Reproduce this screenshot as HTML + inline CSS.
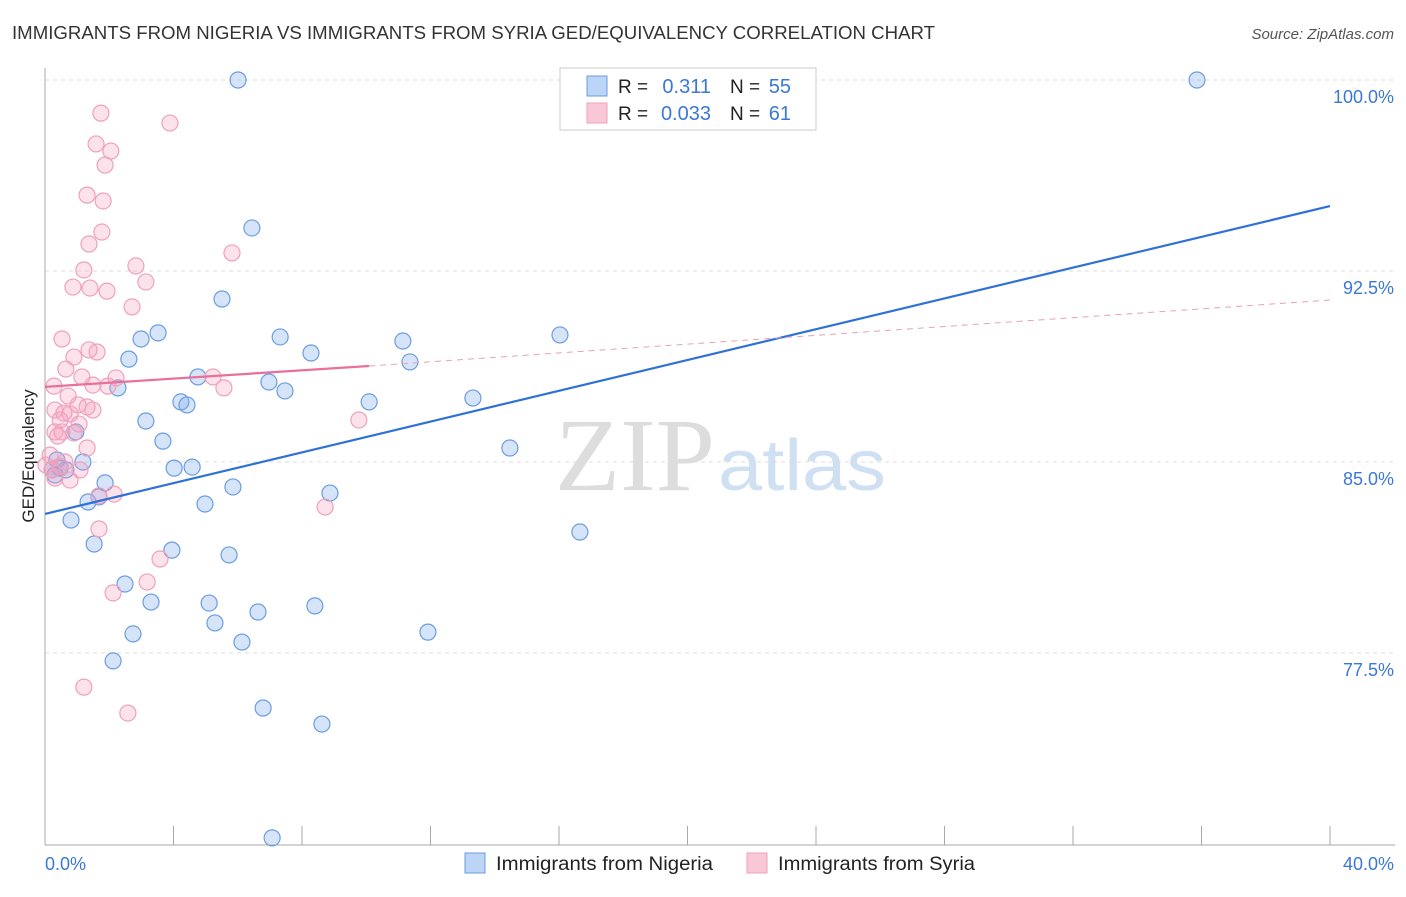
<!DOCTYPE html>
<html><head><meta charset="utf-8"><style>
body{margin:0;background:#fff;width:1406px;height:892px;overflow:hidden;font-family:"Liberation Sans",sans-serif}
</style></head><body>
<svg id="chart" width="1406" height="892" xmlns="http://www.w3.org/2000/svg" font-family="Liberation Sans, sans-serif">
<text x="12" y="39" font-size="18" fill="#333" textLength="923" lengthAdjust="spacingAndGlyphs">IMMIGRANTS FROM NIGERIA VS IMMIGRANTS FROM SYRIA GED/EQUIVALENCY CORRELATION CHART</text>
<text x="1394" y="39" font-size="15" fill="#555" text-anchor="end" font-style="italic">Source: ZipAtlas.com</text>
<text x="555" y="490" font-size="104" fill="#ddd" font-family="Liberation Serif, serif" textLength="160" lengthAdjust="spacingAndGlyphs">ZIP</text>
<text x="718" y="490" font-size="72" fill="#cfe0f3" textLength="168" lengthAdjust="spacingAndGlyphs">atlas</text>
<g id="grid"></g><g id="marks"></g>
<text transform="translate(34,456) rotate(-90)" font-size="17" fill="#222" text-anchor="middle">GED/Equivalency</text>
<text x="45" y="870" font-size="18" fill="#3a78d8">0.0%</text>
<text x="1394" y="870" font-size="18" fill="#3a78d8" text-anchor="end">40.0%</text>
<g>
<rect x="560" y="68" width="256" height="62" fill="#fff" stroke="#ccc"/>
<rect x="587" y="76" width="20" height="20" fill="#bcd4f5" stroke="#6a9de0"/>
<rect x="587" y="103" width="20" height="20" fill="#f9c8d7" stroke="#f0a0bb"/>
<text x="618" y="93" font-size="19" fill="#222">R =</text>
<text x="711" y="93" font-size="20" fill="#3a78d8" text-anchor="end">0.311</text>
<text x="730" y="93" font-size="19" fill="#222">N =</text>
<text x="791" y="93" font-size="20" fill="#3a78d8" text-anchor="end">55</text>
<text x="618" y="120" font-size="19" fill="#222">R =</text>
<text x="711" y="120" font-size="20" fill="#3a78d8" text-anchor="end">0.033</text>
<text x="730" y="120" font-size="19" fill="#222">N =</text>
<text x="791" y="120" font-size="20" fill="#3a78d8" text-anchor="end">61</text>
</g>
<g>
<rect x="465" y="853" width="20" height="20" fill="#bcd4f5" stroke="#6a9de0"/>
<text x="496" y="870" font-size="19" fill="#222" textLength="217" lengthAdjust="spacingAndGlyphs">Immigrants from Nigeria</text>
<rect x="747" y="853" width="20" height="20" fill="#f9c8d7" stroke="#f0a0bb"/>
<text x="778" y="870" font-size="19" fill="#222" textLength="197" lengthAdjust="spacingAndGlyphs">Immigrants from Syria</text>
</g>
</svg>
<script>
const yTicks=[100,92.5,85,77.5];
const yTickLabels=["100.0%","92.5%","85.0%","77.5%"];
const nigeriaX=[6.01,35.86,6.44,5.51,3.52,2.99,7.32,8.28,11.14,16.03,2.61,11.36,2.27,4.76,6.97,7.47,4.23,4.42,10.09,13.32,3.14,3.67,0.96,14.47,1.18,0.37,0.22,0.47,0.65,4.02,4.58,1.87,5.85,8.87,1.34,1.68,4.98,0.81,16.65,1.53,3.95,5.73,2.49,3.30,5.11,8.40,6.63,5.29,2.74,6.13,11.92,2.12,6.79,8.62,7.07,0.31];
const nigeriaY=[100,100,94.19,91.40,90.07,89.83,89.91,89.28,89.75,89.99,89.04,88.93,87.91,88.34,88.14,87.79,87.36,87.24,87.36,87.51,86.61,85.82,86.18,85.55,85.00,85.08,84.69,84.76,84.69,84.76,84.80,84.18,84.02,83.78,83.43,83.63,83.35,82.72,82.25,81.78,81.54,81.35,80.21,79.50,79.46,79.35,79.11,78.68,78.25,77.93,78.32,77.19,75.34,74.71,70.24,84.49];
const syriaX=[1.74,3.89,1.59,2.05,1.87,1.31,1.81,1.77,1.37,5.82,2.83,1.21,3.14,0.87,1.40,1.93,2.71,0.53,0.90,1.37,1.62,0.65,1.15,2.21,5.23,0.28,1.49,1.96,5.57,0.72,1.03,0.31,1.49,0.59,0.78,1.31,0.47,1.06,0.31,0.53,0.90,0.40,1.31,0.16,0.62,0.03,0.22,0.78,1.09,9.77,2.15,1.68,8.72,1.68,3.58,3.18,2.12,1.21,2.58,0.47,0.31];
const syriaY=[98.70,98.31,97.49,97.21,96.66,95.48,95.25,94.03,93.56,93.21,92.70,92.54,92.07,91.87,91.83,91.71,91.09,89.83,89.12,89.40,89.32,88.65,88.34,88.30,88.34,87.98,88.02,87.98,87.91,87.59,87.24,87.04,87.04,86.92,86.89,87.16,86.65,86.49,86.18,86.18,86.14,86.02,85.55,85.27,85.00,84.88,84.69,84.29,84.69,86.65,83.74,83.67,83.23,82.37,81.19,80.29,79.86,76.16,75.14,84.84,84.37];
const nigeriaTrend=[82.96,95.05];
const syriaTrend=[87.95,88.77,91.36];
const syriaSolidEnd=10.09;
const X=v=>45+v/40*1285, Y=v=>80+(100-v)/7.5*191;
const NS="http://www.w3.org/2000/svg";
function mk(parent,tag,attrs){const e=document.createElementNS(NS,tag);for(const k in attrs)e.setAttribute(k,attrs[k]);parent.appendChild(e);return e;}
const g=document.getElementById('grid'), m=document.getElementById('marks');
yTicks.forEach((t,i)=>{
  const l=mk(g,'line',{x1:45,x2:1395,y1:Y(t),y2:Y(t),stroke:'#ddd','stroke-dasharray':'4,4'});
  
  
  const tx=mk(g,'text',{x:1394,y:Y(t)+23,'font-size':18,fill:'#3a78d8','text-anchor':'end'});tx.textContent=yTickLabels[i];
  
  
});
const ax=mk(g,'line',{x1:45,x2:1395,y1:845,y2:845,stroke:'#aaa'});


const ay=mk(g,'line',{x1:45,x2:45,y1:68,y2:845,stroke:'#aaa'});


for(let i=0;i<=10;i++){const t=mk(g,'line',{x1:X(i*4),x2:X(i*4),y1:826,y2:845,stroke:'#aaa'});
  
  }
function pts(xs,ys,fill,stroke,name){xs.forEach((x,i)=>{const c=mk(m,'circle',{cx:X(x),cy:Y(ys[i]),r:8,fill:fill,stroke:stroke,'stroke-width':1.2});
  
  });}
pts(nigeriaX,nigeriaY,'rgba(120,165,235,0.3)','#6a9de0','nigeria-point');
pts(syriaX,syriaY,'rgba(245,160,190,0.3)','#f0a0bb','syria-point');
const bl=mk(m,'line',{x1:X(0),y1:Y(nigeriaTrend[0]),x2:X(40),y2:Y(nigeriaTrend[1]),stroke:'#2f72d6','stroke-width':2.2});


const ps=mk(m,'line',{x1:X(0),y1:Y(syriaTrend[0]),x2:X(syriaSolidEnd),y2:Y(syriaTrend[1]),stroke:'#e8709a','stroke-width':2.2});


const pd=mk(m,'line',{x1:X(syriaSolidEnd),y1:Y(syriaTrend[1]),x2:X(40),y2:Y(syriaTrend[2]),stroke:'#e8a0b8','stroke-width':1,'stroke-dasharray':'6,5'});


</script>
</body></html>
